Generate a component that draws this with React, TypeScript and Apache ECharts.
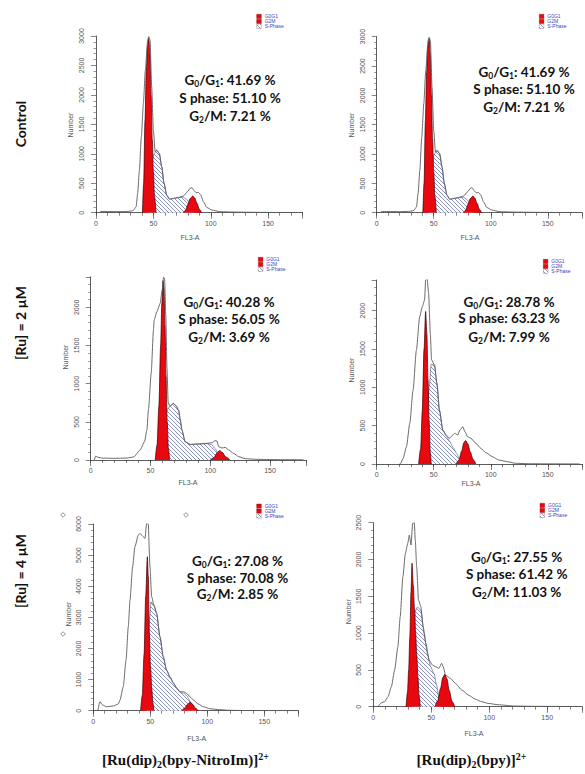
import React, { useEffect, useRef } from "react";
import * as echarts from "echarts";

type Pt = [number, number];

// ---------- DATA ----------
const rowLabels = ["Control", "[Ru] = 2 µM", "[Ru] = 4 µM"];
const legendNames = ["G0G1", "G2M", "S-Phase"];
const g0g1Pct = ["41.69", "41.69", "40.28", "28.78", "27.08", "27.55"];
const sPhasePct = ["51.10", "51.10", "56.05", "63.23", "70.08", "61.42"];
const g2mPct = ["7.21", "7.21", "3.69", "7.99", "2.85", "11.03"];
const yMax = [3000, 3000, 2400, 2400, 6000, 2500];
const yStep = [500, 500, 500, 500, 1000, 500];
const xMax = 180;

// Control (same in both columns)
const ctrlTotal: Pt[] = [[3,0],[4,22],[10,20],[20,18],[28,22],[31,30],[32.6,40],[34.9,100],[36.3,330],[37.8,720],[39.5,1290],[41.3,1860],[43,2420],[45,2930],[46,2990],[47.1,2930],[48.5,2140],[50,1400],[51.5,1035],[52.9,1064],[55.2,1007],[57.3,780],[59.3,500],[61.6,300],[64,232],[67.4,243],[71.8,260],[76.2,283],[79.7,357],[82,413],[83.7,425],[85.5,373],[87.2,340],[89.2,345],[91.3,300],[93.6,187],[96.5,90],[100.9,45],[108,17],[122.7,10],[140,6],[160,4],[178,3]];
const ctrlG0G1: Pt[] = [[40.5,0],[41.5,500],[42.7,1570],[43.8,2400],[44.8,2820],[46,2960],[47,2700],[48,2000],[49,1250],[50,700],[51,280],[52.3,0]];
const ctrlG2M: Pt[] = [[76,0],[78,40],[80,140],[82,240],[84.3,283],[86,250],[88,160],[90,60],[92,0]];
const ctrlS: Pt[] = [[45,0],[46.5,450],[48.5,850],[50.6,1000],[52.9,1060],[55.2,1000],[57.3,775],[59.3,495],[61.6,295],[64,228],[67.4,238],[71.8,255],[76,265],[79,225],[82,150],[84,80],[86,0]];

// [Ru] = 2 µM, [Ru(dip)2(bpy-NitroIm)]2+
const nitro2Total: Pt[] = [[3,0],[4.2,52],[6,35],[10,25],[20,22],[30,25],[36,40],[41.3,130],[45,240],[47,393],[48.3,655],[50.6,1135],[52.5,1703],[53.1,1834],[55.3,1943],[58.1,2052],[59.8,2227],[60.9,2393],[61.8,2380],[62.8,1900],[63.8,1200],[64.8,760],[66,705],[69.3,742],[71.5,710],[73.5,655],[75,520],[76.3,393],[79,240],[83.2,205],[88.8,210],[97.2,218],[101.4,227],[104,253],[105.6,249],[107,175],[109.8,157],[112.6,166],[115.4,131],[119.6,87],[123.7,44],[129.3,17],[139,9],[155,5],[178,3]];
const nitro2G0G1: Pt[] = [[54,0],[55.5,200],[57,700],[58.5,1500],[59.5,2050],[60.5,2350],[61.3,2250],[62.2,1750],[63,1100],[64,500],[65,150],[66,0]];
const nitro2G2M: Pt[] = [[100,0],[103,30],[105.5,90],[107.8,125],[110,100],[113,40],[116.5,0]];
const nitro2S: Pt[] = [[58,0],[60,250],[62,500],[64,660],[66,700],[69.3,738],[71.5,705],[73.5,650],[75,515],[76.3,390],[79,237],[83.2,202],[88.8,207],[97.2,214],[101,205],[104,150],[107,70],[110,0]];

// [Ru] = 2 µM, [Ru(dip)2(bpy)]2+
const bpy2Total: Pt[] = [[20,0],[20.9,5],[23.2,74],[26.1,226],[29,530],[31.9,965],[34.8,1487],[37.7,1922],[40,2052],[42,2139],[42.9,2400],[44.3,2409],[45.5,2226],[47,1704],[48.1,1357],[50.7,1291],[52.8,1052],[55,704],[58,443],[60.9,378],[63.8,335],[66.7,378],[68.5,400],[71,378],[73,443],[75.4,487],[77.4,421],[79.7,356],[82.6,335],[87,270],[91.3,204],[95.7,148],[101.4,96],[107,52],[116,26],[121.7,9],[133,4],[150,2],[178,1]];
const bpy2G0G1: Pt[] = [[36.8,0],[38.5,200],[40,700],[41.5,1500],[42.9,1990],[44,1700],[45,1100],[46,550],[47,150],[47.8,0]];
const bpy2G2M: Pt[] = [[69.6,0],[72,50],[74.5,170],[76.5,280],[78,305],[80,260],[82,160],[84.5,60],[87,0]];
const bpy2S: Pt[] = [[42,0],[44,400],[46,1000],[47.8,1300],[50.7,1285],[52.8,1045],[55,700],[58,440],[61,365],[64,295],[67,215],[70,140],[73,55],[75.5,0]];

// [Ru] = 4 µM, [Ru(dip)2(bpy-NitroIm)]2+
const nitro4Total: Pt[] = [[4,0],[4.4,10],[5.8,290],[8.2,182],[11.7,128],[17.5,150],[21.9,214],[23.4,343],[26.3,771],[28.7,1628],[30.7,2700],[32.2,3556],[34.5,4627],[36.5,5270],[39.5,5644],[40.9,5698],[42.4,5644],[43.9,5590],[45.3,5537],[46.8,6020],[48.2,5998],[49.7,4627],[51.2,3663],[53.2,3395],[55.6,3127],[58.5,2378],[61.4,1735],[64.3,1307],[67.3,1092],[70.2,900],[73.1,739],[76,610],[79,610],[81.9,557],[84.8,450],[87.7,343],[92.1,214],[96.5,128],[102.3,64],[111,32],[120,11],[135,4],[178,2]];
const nitro4G0G1: Pt[] = [[41.5,0],[43,500],[44.5,1800],[46,3700],[47.4,4950],[48.3,4300],[49.1,2500],[50.2,1400],[51.3,700],[52.3,250],[53.2,0]];
const nitro4G2M: Pt[] = [[77.5,0],[80,80],[82.5,200],[84.8,270],[87,210],[89.5,90],[92,0]];
const nitro4S: Pt[] = [[46,0],[48,1500],[49.5,3000],[50.6,3500],[53.2,3380],[55.6,3110],[58.5,2360],[61.4,1720],[64.3,1295],[67.3,1070],[70.2,880],[73.1,720],[76,595],[79,565],[82,480],[85,300],[88,120],[90.5,0]];

// [Ru] = 4 µM, [Ru(dip)2(bpy)]2+
const bpy4Total: Pt[] = [[4,0],[4.2,9],[7.1,54],[9.9,68],[12.7,136],[15.6,272],[18.4,498],[21.2,815],[23.2,1223],[25.5,1766],[27.7,2083],[29.7,2219],[31.1,2332],[32.5,2197],[34,2491],[35.4,2500],[36.2,2264],[37.4,1902],[39,1449],[41,1359],[43,1087],[45.3,860],[48.1,634],[51,566],[53.8,543],[56.6,521],[58.9,589],[60.3,543],[62.3,430],[66.5,385],[70.8,317],[76.4,226],[82.1,158],[87.7,104],[93.4,68],[99,45],[107.6,27],[121.7,9],[138.7,5],[178,2]];
const bpy4G0G1: Pt[] = [[28.3,0],[29.5,200],[30.5,500],[31.5,950],[32.5,1550],[33.4,1950],[34.5,1650],[35.5,1350],[36.5,1000],[37.5,700],[38.5,400],[39.5,150],[40.5,0]];
const bpy4G2M: Pt[] = [[53.2,0],[55.5,80],[58,250],[60,400],[61.7,440],[63.5,380],[65.5,220],[68,70],[70.2,0]];
const bpy4S: Pt[] = [[34,0],[35,600],[36.2,1300],[38.2,1355],[41,1310],[43.9,990],[46.7,720],[49.5,540],[52.4,450],[54.5,300],[56.5,130],[58,0]];

const panelData = [
  { total: ctrlTotal, g0: ctrlG0G1, g2: ctrlG2M, s: ctrlS },
  { total: ctrlTotal, g0: ctrlG0G1, g2: ctrlG2M, s: ctrlS },
  { total: nitro2Total, g0: nitro2G0G1, g2: nitro2G2M, s: nitro2S },
  { total: bpy2Total, g0: bpy2G0G1, g2: bpy2G2M, s: bpy2S },
  { total: nitro4Total, g0: nitro4G0G1, g2: nitro4G2M, s: nitro4S },
  { total: bpy4Total, g0: bpy4G0G1, g2: bpy4G2M, s: bpy4S },
];

// ---------- LAYOUT ----------
const gridPos = [
  { l: 96, t: 36, w: 206.6, h: 176.7 },
  { l: 376.7, t: 36.7, w: 206.3, h: 176 },
  { l: 90.7, t: 276.8, w: 215.2, h: 183.2 },
  { l: 376.7, t: 280, w: 206.8, h: 184 },
  { l: 93.3, t: 524, w: 205.2, h: 186.7 },
  { l: 373.3, t: 522.7, w: 212, h: 184 },
];
const annoPos = [
  { x: 230, y: [80, 97.7, 115.7] },
  { x: 524, y: [71.7, 89.3, 106.7] },
  { x: 229, y: [302.3, 319, 336.7] },
  { x: 509, y: [302.3, 318.3, 336.7] },
  { x: 237.5, y: [561, 577.7, 594.3] },
  { x: 516.7, y: [556.7, 574, 591.7] },
];
const legendPos = [
  { x: 256.7, y: 14.3 },
  { x: 539.3, y: 14.3 },
  { x: 258.3, y: 257.3 },
  { x: 543.3, y: 259.3 },
  { x: 256.7, y: 504 },
  { x: 540, y: 503.3 },
];
const flPos = [[190, 237.3], [470, 237.3], [188, 482], [471, 483], [196.7, 738], [474, 733]];
const numPos = [[70, 125], [351.7, 125], [65, 357], [351.7, 370], [68.3, 614], [348.3, 611.7]];
const rowPos = [124, 323, 571];

const RED = "#e8080f";
const AX = "#333";
const SMALL_FONT = "Liberation Sans, Arial, sans-serif";

function makeHatch(): HTMLCanvasElement {
  const c = document.createElement("canvas");
  c.width = 4;
  c.height = 4;
  const ctx = c.getContext("2d")!;
  ctx.fillStyle = "#ffffff";
  ctx.fillRect(0, 0, 4, 4);
  ctx.fillStyle = "#8a92c2";
  for (let i = 0; i < 4; i++) ctx.fillRect(i, i, 1, 1);
  return c;
}

function buildOption() {
  const hatch = { image: makeHatch(), repeat: "repeat" };
  const grid: any[] = [];
  const xAxis: any[] = [];
  const yAxis: any[] = [];
  const series: any[] = [];
  const graphic: any[] = [];

  gridPos.forEach((p, i) => {
    grid.push({ left: p.l, top: p.t, width: p.w, height: p.h, containLabel: false });
    xAxis.push({
      gridIndex: i, type: "value", min: 0, max: xMax, interval: 10, position: "bottom",
      axisLine: { show: true, onZero: false, lineStyle: { color: AX, width: 0.8 } },
      axisTick: { show: true, length: 3, lineStyle: { color: AX, width: 0.6 } },
      axisLabel: {
        show: true, fontSize: 7, color: "#555", margin: 7, fontFamily: SMALL_FONT,
        formatter: (v: number) => (v % 50 === 0 ? String(v) : ""),
      },
      splitLine: { show: false },
    });
    xAxis.push({
      gridIndex: i, type: "value", min: 0, max: xMax, interval: 50, position: "bottom",
      axisLine: { show: false, onZero: false },
      axisTick: { show: true, length: 6, lineStyle: { color: AX, width: 0.6 } },
      axisLabel: { show: false },
      splitLine: { show: false },
    });
    const step = yStep[i];
    yAxis.push({
      gridIndex: i, type: "value", min: 0, max: yMax[i], interval: step,
      axisLine: { show: true, onZero: false, lineStyle: { color: AX, width: 0.8 } },
      axisTick: { show: true, length: 5, lineStyle: { color: AX, width: 0.6 } },
      minorTick: { show: true, splitNumber: 5, length: 2.5, lineStyle: { color: AX, width: 0.5 } },
      axisLabel: {
        show: true, rotate: 90, fontSize: 7, color: "#555", margin: 11, fontFamily: SMALL_FONT,
        formatter: (v: number) => (v % step === 0 ? String(v) : ""),
      },
      splitLine: { show: false },
    });

    const d = panelData[i];
    const xi = i * 2;
    series.push({
      type: "line", name: "S-Phase", xAxisIndex: xi, yAxisIndex: i, data: d.s,
      showSymbol: false, smooth: 0.25, smoothMonotone: "x", z: 2, silent: true,
      lineStyle: { color: "#4a4e66", width: 0.6 },
      areaStyle: { color: hatch, opacity: 1 },
    });
    series.push({
      type: "line", name: "G0G1", xAxisIndex: xi, yAxisIndex: i, data: d.g0,
      showSymbol: false, smooth: 0.3, smoothMonotone: "x", z: 3, silent: true,
      lineStyle: { color: "#3a0000", width: 0.7 },
      areaStyle: { color: RED, opacity: 1 },
    });
    series.push({
      type: "line", name: "G2M", xAxisIndex: xi, yAxisIndex: i, data: d.g2,
      showSymbol: false, smooth: 0.3, smoothMonotone: "x", z: 3, silent: true,
      lineStyle: { color: "#3a0000", width: 0.7 },
      areaStyle: { color: RED, opacity: 1 },
    });
    series.push({
      type: "line", name: "Total", xAxisIndex: xi, yAxisIndex: i, data: d.total,
      showSymbol: false, smooth: 0.2, smoothMonotone: "x", z: 4, silent: true,
      lineStyle: { color: "#5a5a5a", width: 0.9 },
    });

    // legend
    const lg = legendPos[i];
    legendNames.forEach((name, k) => {
      const yy = lg.y + k * 5;
      graphic.push({
        type: "rect", z: 10,
        shape: { x: lg.x, y: yy, width: 4.6, height: 4.2 },
        style: { fill: k < 2 ? RED : hatch, stroke: k < 2 ? "#8a0000" : "#777", lineWidth: 0.4 },
      });
      graphic.push({
        type: "text", z: 10, x: lg.x + 8, y: yy + 2.1,
        style: {
          text: name, fontSize: 5, fontFamily: SMALL_FONT, fill: "#3a44c8",
          align: "left", verticalAlign: "middle", textAlign: "left", textVerticalAlign: "middle",
        },
      });
    });

    // annotation
    const a = annoPos[i];
    const rich = {
      n: { fontSize: 13.5, fontWeight: "bold", fontFamily: "Lato, sans-serif", fill: "#111", lineHeight: 17 },
      s: { fontSize: 8.5, fontWeight: "bold", fontFamily: "Lato, sans-serif", fill: "#111", lineHeight: 8, verticalAlign: "bottom" },
    };
    const lines = [
      `{n|G}{s|0}{n|/G}{s|1}{n|: ${g0g1Pct[i]} %}`,
      `{n|S phase: ${sPhasePct[i]} %}`,
      `{n|G}{s|2}{n|/M: ${g2mPct[i]} %}`,
    ];
    lines.forEach((t, k) => {
      graphic.push({
        type: "text", z: 10, x: a.x, y: a.y[k],
        style: {
          text: t, rich, align: "center", verticalAlign: "middle",
          textAlign: "center", textVerticalAlign: "middle",
        },
      });
    });

    // axis names
    graphic.push({
      type: "text", z: 10, x: flPos[i][0], y: flPos[i][1],
      style: {
        text: "FL3-A", fontSize: 7, fontFamily: SMALL_FONT, fill: "#555",
        align: "center", verticalAlign: "middle", textAlign: "center", textVerticalAlign: "middle",
      },
    });
    graphic.push({
      type: "text", z: 10, x: numPos[i][0], y: numPos[i][1], rotation: Math.PI / 2,
      style: {
        text: "Number", fontSize: 7, fontFamily: SMALL_FONT, fill: "#555",
        align: "center", verticalAlign: "middle", textAlign: "center", textVerticalAlign: "middle",
      },
    });
  });

  // row labels
  rowLabels.forEach((t, r) => {
    graphic.push({
      type: "text", z: 10, x: 20, y: rowPos[r], rotation: Math.PI / 2,
      style: {
        text: t, fontSize: 14, fontWeight: "bold", fontFamily: "Lato, sans-serif", fill: "#111",
        align: "center", verticalAlign: "middle", textAlign: "center", textVerticalAlign: "middle",
      },
    });
  });

  // column labels
  const colRich = {
    t: { fontSize: 15, fontWeight: "bold", fontFamily: "Liberation Serif, Times New Roman, serif", fill: "#111", lineHeight: 18 },
    b: { fontSize: 10, fontWeight: "bold", fontFamily: "Liberation Serif, Times New Roman, serif", fill: "#111", lineHeight: 7, verticalAlign: "bottom" },
    p: { fontSize: 10, fontWeight: "bold", fontFamily: "Liberation Serif, Times New Roman, serif", fill: "#111", lineHeight: 7, verticalAlign: "top" },
  };
  const colLabels = [
    { x: 185.5, text: "{t|[Ru(dip)}{b|2}{t|(bpy-NitroIm)]}{p|2+}" },
    { x: 471.5, text: "{t|[Ru(dip)}{b|2}{t|(bpy)]}{p|2+}" },
  ];
  colLabels.forEach((c) => {
    graphic.push({
      type: "text", z: 10, x: c.x, y: 760,
      style: {
        text: c.text, rich: colRich, align: "center", verticalAlign: "middle",
        textAlign: "center", textVerticalAlign: "middle",
      },
    });
  });

  // small diamond markers (artifacts in bottom-left panel)
  [[63, 515], [186, 515], [63, 634]].forEach(([cx, cy]) => {
    graphic.push({
      type: "polygon", z: 10,
      shape: { points: [[cx, cy - 2.3], [cx + 2.3, cy], [cx, cy + 2.3], [cx - 2.3, cy]] },
      style: { fill: "#fff", stroke: "#666", lineWidth: 0.7 },
    });
  });

  return {
    animation: false,
    backgroundColor: "#ffffff",
    grid, xAxis, yAxis, series, graphic,
  };
}

export default function App() {
  const ref = useRef<HTMLDivElement>(null);
  useEffect(() => {
    if (!ref.current) return;
    const chart = echarts.init(ref.current, undefined, { renderer: "svg" });
    chart.setOption(buildOption() as any);
    return () => chart.dispose();
  }, []);
  return (
    <div
      ref={ref}
      style={{ position: "absolute", left: 0, top: 0, width: 585, height: 774, background: "#fff" }}
    />
  );
}
